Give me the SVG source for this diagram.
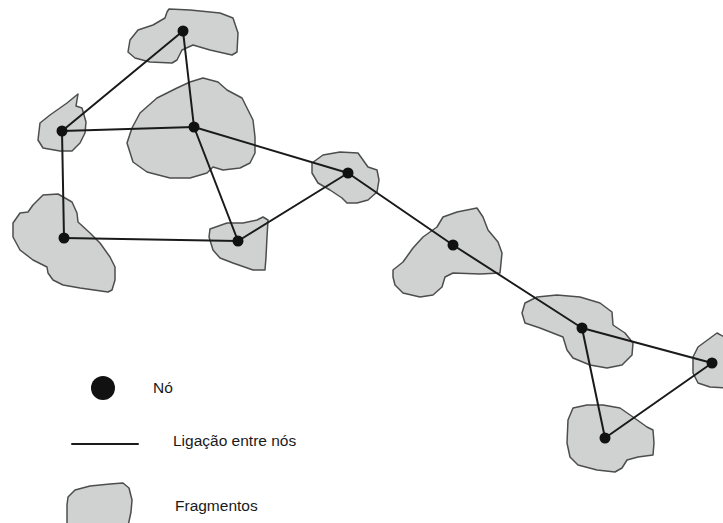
<svg xmlns="http://www.w3.org/2000/svg" width="723" height="523" viewBox="0 0 723 523">
  <style>
    .frag { fill: #d0d2d2; stroke: #4d4d4d; stroke-width: 1.5; stroke-linejoin: round; }
    .link { stroke: #1a1a1a; stroke-width: 2; fill: none; stroke-linecap: round; }
    .dot { fill: #111111; }
    .label { font-family: "Liberation Sans", Arial, sans-serif; font-size: 15.5px; fill: #1a1a1a; }
  </style>
  <rect width="723" height="523" fill="#ffffff"/>

  <!-- habitat fragments -->
  <g id="fragments">
    <polygon id="frag-a" class="frag" points="167,12 169,9 190,10 220,13 233,18 238,33 237,52 232,55 210,50 193,45 182,50 177,60 172,63 150,62 135,58 128,52 130,40 138,30 153,25 165,18"/>
    <polygon id="frag-b" class="frag" points="78,94 76,106 82,108 86,122 85,133 80,143 72,151 60,151 43,148 38,140 40,123 50,115 67,103"/>
    <polygon id="frag-c" class="frag" points="190,82 203,78 218,82 227,90 242,98 248,110 253,120 255,137 255,153 250,163 240,168 223,170 213,167 207,173 190,178 170,178 147,172 133,162 127,143 132,128 140,113 157,98 177,88"/>
    <polygon id="frag-d" class="frag" points="33,205 43,195 58,194 72,202 77,213 78,222 90,233 100,243 110,257 115,267 115,280 112,290 108,292 80,288 63,285 53,280 48,273 47,267 33,260 20,250 13,237 13,223 20,213 28,212"/>
    <polygon id="frag-e" class="frag" points="210,229 227,223 243,223 257,220 263,217 268,220 267,237 266,257 265,270 253,270 233,263 220,258 213,250 209,237"/>
    <polygon id="frag-f" class="frag" points="312,163 323,155 340,152 358,153 368,167 377,170 379,180 377,192 368,200 357,203 347,203 342,198 330,190 318,183 312,173"/>
    <polygon id="frag-g" class="frag" points="393,270 403,262 413,248 423,237 437,227 443,217 457,212 477,208 483,217 488,230 498,242 502,253 500,273 480,274 453,273 445,277 442,287 433,295 420,297 403,293 395,285 393,277"/>
    <polygon id="frag-h" class="frag" points="525,303 537,297 557,295 580,297 600,303 612,312 613,325 625,333 633,343 632,355 622,365 607,368 590,365 573,358 567,350 563,337 540,328 525,323 522,313"/>
    <polygon id="frag-i" class="frag" points="717,333 698,347 693,357 693,373 698,383 710,387 730,388 730,340"/>
    <polygon id="frag-j" class="frag" points="573,408 587,405 603,405 620,408 633,417 647,427 653,430 654,443 653,455 638,457 627,460 622,468 615,472 597,470 578,465 570,457 567,443 568,420"/>
  </g>

  <!-- links between nodes -->
  <g id="connectors">
    <line class="link" x1="183" y1="31" x2="62" y2="131"/>
    <line class="link" x1="183" y1="31" x2="194" y2="127"/>
    <line class="link" x1="62" y1="131" x2="194" y2="127"/>
    <line class="link" x1="62" y1="131" x2="64" y2="238"/>
    <line class="link" x1="64" y1="238" x2="238" y2="241"/>
    <line class="link" x1="194" y1="127" x2="238" y2="241"/>
    <line class="link" x1="194" y1="127" x2="348" y2="173"/>
    <line class="link" x1="238" y1="241" x2="348" y2="173"/>
    <line class="link" x1="348" y1="173" x2="453" y2="245"/>
    <line class="link" x1="453" y1="245" x2="582" y2="328"/>
    <line class="link" x1="582" y1="328" x2="712" y2="363"/>
    <line class="link" x1="582" y1="328" x2="605" y2="438"/>
    <line class="link" x1="605" y1="438" x2="712" y2="363"/>
  </g>

  <!-- nodes -->
  <g id="n1"><circle class="dot" cx="183" cy="31" r="5.5"/></g>
  <g id="n2"><circle class="dot" cx="62" cy="131" r="5.5"/></g>
  <g id="n3"><circle class="dot" cx="194" cy="127" r="5.5"/></g>
  <g id="n4"><circle class="dot" cx="64" cy="238" r="5.5"/></g>
  <g id="n5"><circle class="dot" cx="238" cy="241" r="5.5"/></g>
  <g id="n6"><circle class="dot" cx="348" cy="173" r="5.5"/></g>
  <g id="n7"><circle class="dot" cx="453" cy="245" r="5.5"/></g>
  <g id="n8"><circle class="dot" cx="582" cy="328" r="5.5"/></g>
  <g id="n9"><circle class="dot" cx="712" cy="363" r="5.5"/></g>
  <g id="n10"><circle class="dot" cx="605" cy="438" r="5.5"/></g>

  <!-- legend -->
  <g id="legend">
    <circle class="dot" cx="103" cy="388" r="12"/>
    <text class="label" x="153" y="393">Nó</text>
    <line class="link" x1="72" y1="444" x2="138" y2="444"/>
    <text class="label" x="173" y="446">Ligação entre nós</text>
    <polygon class="frag" points="68,497 75,490 90,486 110,484 123,483 129,488 132,500 131,512 128,526 67,526 67,505"/>
    <text class="label" x="175" y="511">Fragmentos</text>
  </g>
</svg>
